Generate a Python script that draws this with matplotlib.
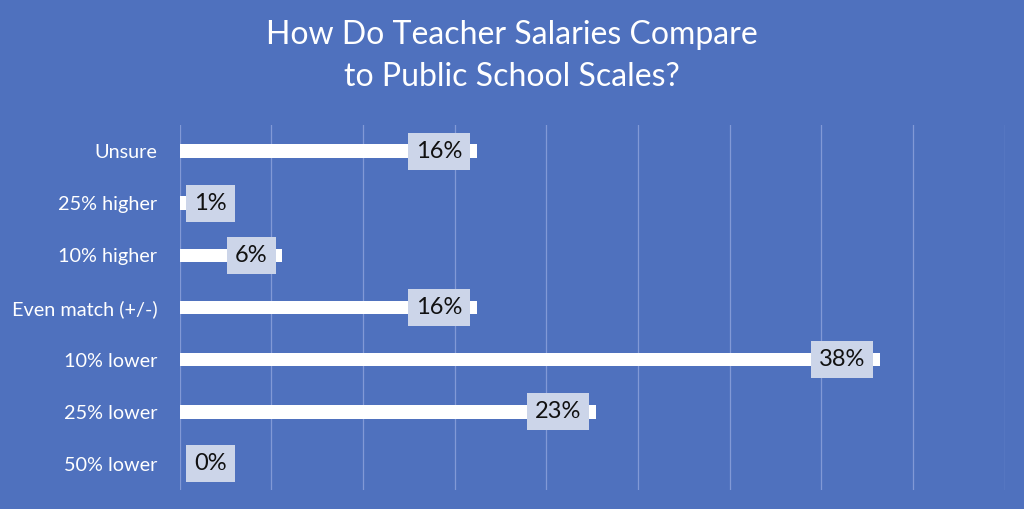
import numpy as np
from matplotlib import pyplot as plt

# survey answers, top to bottom as shown
categories = ['Unsure', '25% higher', '10% higher', 'Even match (+/-)',
              '10% lower', '25% lower', '50% lower']
shares = [16.2, 0.8, 5.6, 16.2, 38.2, 22.7, 0.0]   # percent of respondents
title_lines = ['How Do Teacher Salaries Compare', 'to Public School Scales?']

BG = '#4f71be'
BOX = '#ccd5e9'
GRID = '#8299d6'

plt.rcParams['font.family'] = ['Lato', 'DejaVu Sans']

fig = plt.figure(figsize=(10.24, 5.09), dpi=100, facecolor=BG)
ax = fig.add_axes([0.1753, 0.0373, 0.8057, 0.717], facecolor=BG)

y = np.arange(len(categories))
ax.barh(y, shares, height=0.26, color='white', zorder=2)

ax.set_xlim(0, 45)
ax.set_ylim(len(categories) - 0.5, -0.5)
ax.set_xticks(np.arange(0, 46, 5))
ax.grid(axis='x', color=GRID, lw=0.9, zorder=0)
ax.tick_params(length=0)
ax.tick_params(axis='x', labelbottom=False)
for s in ax.spines.values():
    s.set_visible(False)

ax.set_yticks(y)
ax.set_yticklabels(categories, color='white', fontsize=14.3)
ax.tick_params(axis='y', pad=16)

# value labels in light boxes near the bar ends
for yi, v in zip(y, shares):
    if v < 4:
        ax.annotate(f'{v:.0f}%', xy=(0, yi), xytext=(10.5, 0), textcoords='offset points',
                    ha='left', va='center', fontsize=17, color='#111111', zorder=4,
                    bbox=dict(boxstyle='square,pad=0.34', fc=BOX, ec='none'))
    else:
        ax.annotate(f'{v:.0f}%', xy=(v, yi), xytext=(-10.5, 0), textcoords='offset points',
                    ha='right', va='center', fontsize=17, color='#111111', zorder=4,
                    bbox=dict(boxstyle='square,pad=0.34', fc=BOX, ec='none'))

fig.text(0.5, 1 - 35 / 509, title_lines[0], ha='center', va='center', color='white', fontsize=23)
fig.text(0.5, 1 - 77 / 509, title_lines[1], ha='center', va='center', color='white', fontsize=23)

fig.savefig('out.png', dpi=100, facecolor=BG)
